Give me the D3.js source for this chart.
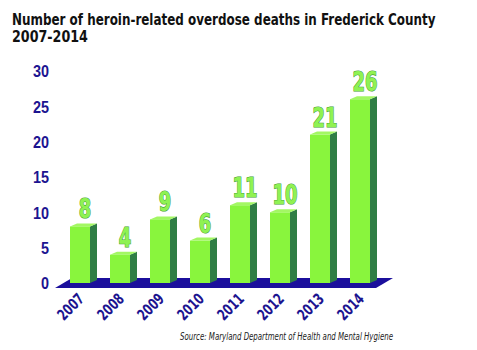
<!DOCTYPE html>
<html>
<head>
<meta charset="utf-8">
<script src="https://cdn.jsdelivr.net/npm/d3@7"></script>
<style>
  html, body { margin: 0; padding: 0; background: #ffffff; }
  svg { display: block; }
  .narrow { font-family: "Liberation Sans Narrow", "Arial Narrow", "DejaVu Sans Condensed", sans-serif; }
</style>
</head>
<body>
<div id="chart"></div>
<script>
// Heroin-related overdose deaths, Frederick County, by year
const years = ["2007", "2008", "2009", "2010", "2011", "2012", "2013", "2014"];
const deaths = [8, 4, 9, 6, 11, 10, 21, 26];
const yTicks = [0, 5, 10, 15, 20, 25, 30];
const titleLines = ["Number of heroin-related overdose deaths in Frederick County", "2007-2014"];
const sourceNote = "Source: Maryland Department of Health and Mental Hygiene";

const W = 477, H = 350;
const svg = d3.select("#chart").append("svg")
  .attr("width", W).attr("height", H)
  .attr("class", "narrow");

const x = d3.scaleBand().domain(years).range([60, 380])
  .paddingInner(0.5).paddingOuter(0.25);
const y = d3.scaleLinear().domain([0, 30]).range([283, 71]);

const depth = 7, rise = 3;
const colors = {
  front: "#89f53d", side: "#2f7e45", top: "#a3f763",
  floor: "#1b0f9c", axis: "#1c1490",
  valueFill: "#8ff252", valueStroke: "#3f9a34"
};

// Title, squeezed horizontally to a heavy condensed look
const titleWidths = [424, 76];
svg.append("g").selectAll("text").data(titleLines).join("text")
  .attr("font-size", 16).attr("font-weight", "bold").attr("fill", "#111")
  .text(d => d)
  .attr("transform", function (d, i) {
    const sx = titleWidths[i] / this.getComputedTextLength();
    return `translate(12,${i === 0 ? 24.5 : 42}) scale(${sx},1)`;
  });

// Floor under the bars
const fl = x(years[0]) - 15, fr = x(years[years.length - 1]) + x.bandwidth() + 6;
svg.append("polygon")
  .attr("points", [[fl, y(0) + 5], [fl + 17, y(0) - 5], [fr + 17, y(0) - 5], [fr, y(0) + 5]].join(" "))
  .attr("fill", colors.floor);

// Y axis
const yAxis = d3.axisLeft(y).tickValues(yTicks).tickSize(0).tickPadding(0);
const yg = svg.append("g").attr("transform", "translate(49,0)").call(yAxis);
yg.select(".domain").remove();
yg.selectAll("text")
  .attr("font-family", null)
  .attr("font-size", 16).attr("font-weight", "bold")
  .attr("fill", colors.axis)
  .attr("dy", "0.36em")
  .attr("textLength", d => String(d).length * 8)
  .attr("lengthAdjust", "spacingAndGlyphs");

// 3-D bars
const bars = svg.append("g").selectAll("g").data(years.map((yr, i) => ({ yr, v: deaths[i] })))
  .join("g");

bars.append("polygon") // side face
  .attr("points", d => {
    const x1 = x(d.yr) + x.bandwidth();
    return [[x1, y(d.v)], [x1 + depth, y(d.v) - rise], [x1 + depth, y(0) - rise], [x1, y(0)]].join(" ");
  })
  .attr("fill", colors.side);

bars.append("polygon") // top face
  .attr("points", d => {
    const x0 = x(d.yr), x1 = x0 + x.bandwidth();
    return [[x0, y(d.v)], [x0 + depth, y(d.v) - rise], [x1 + depth, y(d.v) - rise], [x1, y(d.v)]].join(" ");
  })
  .attr("fill", colors.top);

bars.append("rect") // front face
  .attr("x", d => x(d.yr)).attr("y", d => y(d.v))
  .attr("width", x.bandwidth()).attr("height", d => y(0) - y(d.v))
  .attr("fill", colors.front);

// Value labels, outlined
bars.append("text")
  .attr("x", d => x(d.yr) + 15).attr("y", d => y(d.v) - 8)
  .attr("text-anchor", "middle")
  .attr("font-size", 27).attr("font-weight", "bold")
  .attr("fill", colors.valueFill).attr("stroke", colors.valueStroke)
  .attr("stroke-width", 1.2).attr("paint-order", "stroke")
  .attr("textLength", d => String(d.v).length * 12.5)
  .attr("lengthAdjust", "spacingAndGlyphs")
  .text(d => d.v);

// X axis labels, slanted
svg.append("g").selectAll("text").data(years).join("text")
  .attr("transform", d => `translate(${x(d) + 15},300) rotate(-45)`)
  .attr("text-anchor", "end")
  .attr("font-size", 15.5).attr("font-weight", "bold")
  .attr("fill", colors.axis)
  .attr("textLength", 30).attr("lengthAdjust", "spacingAndGlyphs")
  .text(d => d);

// Source note
svg.append("text")
  .attr("x", 180).attr("y", 340)
  .attr("font-size", 10).attr("font-style", "italic").attr("fill", "#222")
  .attr("textLength", 213).attr("lengthAdjust", "spacingAndGlyphs")
  .text(sourceNote);
</script>
</body>
</html>
